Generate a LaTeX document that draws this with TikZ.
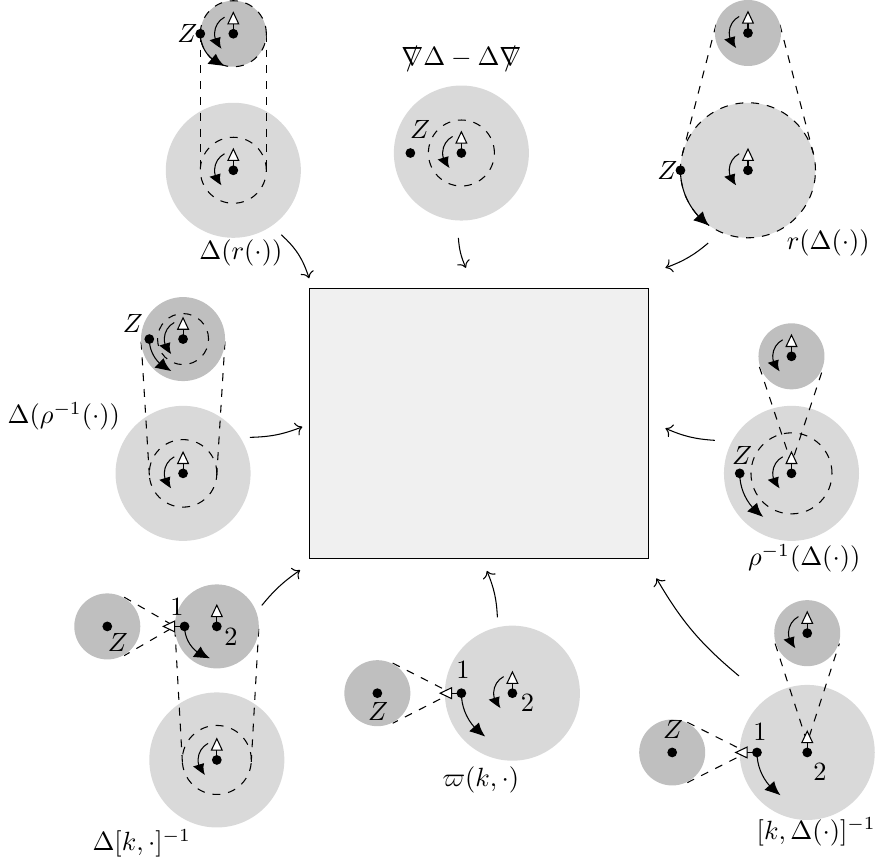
\documentclass[tikz,border=0pt]{standalone}
\usepackage{tikz}
\usetikzlibrary{arrows.meta,bending,calc}

\newcommand{\dirac}{\mathord{\mbox{\ooalign{$\nabla$\cr\hidewidth$/$\hidewidth\cr}}}}

\begin{document}
\begin{tikzpicture}[
  light/.style={fill=black!15},
  dark/.style={fill=black!25},
  lift/.style={dashed},
  pin/.style={-{Triangle[fill=white,length=5pt,width=4.6pt]}},
  turn/.style={-{Latex[bend,length=5.6pt,width=5pt]}},
  spin/.style={-{Latex[bend,length=4.6pt,width=4.4pt]}},
  flow/.style={->}]

  \useasboundingbox (0,0) rectangle (11.69,11.56);

  % disc centres
  \coordinate (S1) at (3.11,11.11);  \coordinate (B1) at (3.11,9.29);
  \coordinate (B2) at (6.15,9.52);
  \coordinate (S3) at (9.97,11.12);  \coordinate (B3) at (9.97,9.29);
  \coordinate (S4) at (2.44,7.04);   \coordinate (B4) at (2.44,5.25);
  \coordinate (S5) at (10.55,6.81);  \coordinate (B5) at (10.55,5.25);
  \coordinate (Z6) at (1.43,3.21);   \coordinate (S6) at (2.89,3.21);
  \coordinate (B6) at (2.89,1.43);
  \coordinate (Z7) at (5.03,2.32);   \coordinate (B7) at (6.83,2.32);
  \coordinate (Z8) at (8.96,1.53);   \coordinate (B8) at (10.76,1.53);
  \coordinate (S8) at (10.76,3.12);

  % marked points on the discs
  \coordinate (tl-z) at ($(S1)+(180:.44)$);
  \coordinate (tm-z) at ($(B2)+(180:.68)$);
  \coordinate (tr-z) at ($(B3)+(180:.9)$);
  \coordinate (ml-z) at ($(S4)+(180:.45)$);
  \coordinate (mr-z) at ($(B5)+(180:.69)$);
  \coordinate (bl-one) at ($(S6)+(180:.43)$);
  \coordinate (bm-one) at ($(B7)+(180:.68)$);
  \coordinate (br-one) at ($(B8)+(180:.67)$);

  % light discs
  \foreach \c in {B1,B2,B3,B4,B5,B6,B7,B8}
    \fill[light] (\c) circle (.9);

  % dashed lift lines
  \draw[lift] ($(S1)+(180:.44)$) -- ($(B1)+(180:.44)$);
  \draw[lift] ($(S1)+(0:.44)$) -- ($(B1)+(0:.44)$);
  \draw[lift] ($(S3)+(165.4:.44)$) -- ($(B3)+(165.4:.9)$);
  \draw[lift] ($(S3)+(14.6:.44)$) -- ($(B3)+(14.6:.9)$);
  \draw[lift] ($(S4)+(183.5:.56)$) -- ($(B4)+(183.5:.45)$);
  \draw[lift] ($(S4)+(-3.5:.56)$) -- ($(B4)+(-3.5:.45)$);
  \draw[lift] ($(S6)+(183.2:.56)$) -- ($(B6)+(183.2:.46)$);
  \draw[lift] ($(S6)+(-3.2:.56)$) -- ($(B6)+(-3.2:.46)$);

  % dashed cones onto a point
  \draw[lift] ($(S5)+(198.3:.45)$) -- ($(B5)+(0,.13)$) -- ($(S5)+(341.7:.45)$);
  \draw[lift] ($(S8)+(198:.45)$) -- ($(B8)+(0,.13)$) -- ($(S8)+(342:.45)$);
  \draw[lift] ($(Z6)+(60:.45)$) -- ($(bl-one)+(-.13,0)$) -- ($(Z6)+(-60:.45)$);
  \draw[lift] ($(Z7)+(63:.45)$) -- ($(bm-one)+(-.13,0)$) -- ($(Z7)+(-63:.45)$);
  \draw[lift] ($(Z8)+(63.3:.45)$) -- ($(br-one)+(-.13,0)$) -- ($(Z8)+(-63.3:.45)$);

  % dark discs
  \foreach \c in {S1,S3,S5,Z6,Z7,Z8,S8}
    \fill[dark] (\c) circle (.44);
  \fill[dark] (S4) circle (.56);
  \fill[dark] (S6) circle (.56);

  % dashed circles
  \draw[lift] (S1) circle (.44);
  \draw[lift] (B3) circle (.9);
  \foreach \c/\r in {B1/.44,B2/.44,S4/.34,B4/.45,B5/.54,B6/.46}
    \draw[lift] (\c) circle (\r);

  % centre points with axis and spin
  \foreach \c in {S1,B1,B2,S3,B3,S4,B4,S5,B5,B6,B7,S8} {
    \fill (\c) circle (.065);
    \draw[pin] (\c) -- ++(0,.3);
    \draw[spin] ($(\c)+(118:.25)$) arc[start angle=118,end angle=232,radius=.25];
  }
  \foreach \c in {S6,B8} {
    \fill (\c) circle (.065);
    \draw[pin] (\c) -- ++(0,.3);
  }
  \foreach \c in {Z6,Z7,Z8,tl-z,tm-z,tr-z,ml-z,mr-z}
    \fill (\c) circle (.065);
  \foreach \c in {bl-one,bm-one,br-one} {
    \fill (\c) circle (.065);
    \draw[pin] (\c) -- ++(-.3,0);
  }

  % motion of the marked points
  \draw[turn] (tl-z) arc[start angle=180,end angle=255,radius=.44];
  \draw[turn] (tr-z) arc[start angle=180,end angle=235,radius=.9];
  \draw[turn] (ml-z) arc[start angle=180,end angle=250,radius=.45];
  \draw[turn] (mr-z) arc[start angle=180,end angle=237,radius=.69];
  \draw[turn] (bl-one) arc[start angle=180,end angle=258,radius=.43];
  \draw[turn] (bm-one) arc[start angle=180,end angle=238,radius=.68];
  \draw[turn] (br-one) arc[start angle=180,end angle=238,radius=.67];

  % point labels
  \node[left,inner sep=1pt] at (tl-z) {$Z$};
  \node[left,inner sep=1pt] at (tr-z) {$Z$};
  \node at (5.60,9.83) {$Z$};
  \node at (1.77,7.25) {$Z$};
  \node at (9.89,5.49) {$Z$};
  \node at (1.57,2.99) {$Z$};
  \node at (5.04,2.07) {$Z$};
  \node at (8.97,1.83) {$Z$};
  \node at (2.36,3.47) {$1$};
  \node at (3.08,3.07) {$2$};
  \node at (6.17,2.63) {$1$};
  \node at (7.03,2.19) {$2$};
  \node at (10.13,1.80) {$1$};
  \node at (10.93,1.27) {$2$};

  % map labels
  \node at (3.21,8.19) {$\Delta(r(\cdot))$};
  \node at (6.15,10.76) {$\dirac\Delta-\Delta\dirac$};
  \node at (11.04,8.32) {$r(\Delta(\cdot))$};
  \node at (0.85,6.01) {$\Delta(\rho^{-1}(\cdot))$};
  \node at (10.72,4.12) {$\rho^{-1}(\Delta(\cdot))$};
  \node at (1.89,0.32) {$\Delta[k,\cdot]^{-1}$};
  \node at (6.41,1.16) {$\varpi(k,\cdot)$};
  \node at (10.88,0.47) {$[k,\Delta(\cdot)]^{-1}$};

  % central box
  \node[draw,fill=black!6,minimum width=4.52cm,minimum height=3.6cm,inner sep=0pt] (box) at (6.38,5.92) {};

  % arrows into the box
  \coordinate (tl-out) at (3.75,8.43);  \coordinate (tl-in) at (4.12,7.85);
  \coordinate (tm-out) at (6.11,8.39);  \coordinate (tm-in) at (6.21,7.99);
  \coordinate (tr-out) at (9.44,8.32);  \coordinate (tr-in) at (8.87,7.99);
  \coordinate (ml-out) at (3.33,5.73);  \coordinate (ml-in) at (4.03,5.87);
  \coordinate (mr-out) at (9.53,5.69);  \coordinate (mr-in) at (8.87,5.85);
  \coordinate (bl-out) at (3.49,3.49);  \coordinate (bl-in) at (4.00,3.96);
  \coordinate (bm-out) at (6.63,3.33);  \coordinate (bm-in) at (6.49,3.95);
  \coordinate (br-out) at (9.85,2.55);  \coordinate (br-in) at (8.75,3.85);
  \draw[flow] (tl-out) to[bend left=15] (tl-in);
  \draw[flow] (tm-out) to[bend right=10] (tm-in);
  \draw[flow] (tr-out) to[bend left=10] (tr-in);
  \draw[flow] (ml-out) to[bend right=10] (ml-in);
  \draw[flow] (mr-out) to[bend left=10] (mr-in);
  \draw[flow] (bl-out) to[bend left=8] (bl-in);
  \draw[flow] (bm-out) to[bend right=10] (bm-in);
  \draw[flow] (br-out) to[bend left=10] (br-in);

\end{tikzpicture}
\end{document}
